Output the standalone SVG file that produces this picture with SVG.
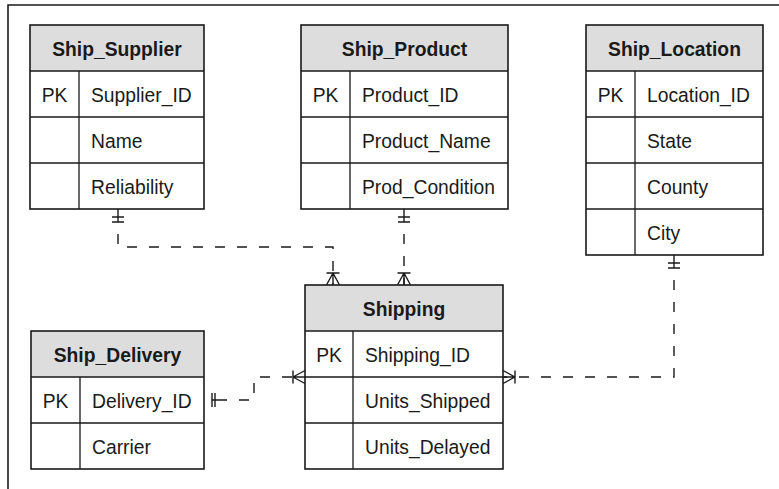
<svg xmlns="http://www.w3.org/2000/svg" width="779" height="489" viewBox="0 0 779 489">
  <style>
    .frame { fill: none; stroke: #1a1a1a; stroke-width: 1.6; }
    .hdr { fill: #dddddd; stroke: none; }
    .box { fill: none; stroke: #1a1a1a; stroke-width: 1.6; }
    .grid { fill: none; stroke: #1a1a1a; stroke-width: 1.3; }
    .title { font-family: "Liberation Sans", Arial, sans-serif; font-weight: bold; font-size: 19.3px; fill: #1a1a1a; text-anchor: middle; }
    .pk { font-family: "Liberation Sans", Arial, sans-serif; font-size: 19.3px; fill: #1a1a1a; text-anchor: middle; }
    .fld { font-family: "Liberation Sans", Arial, sans-serif; font-size: 19.3px; fill: #1a1a1a; }
    .rel { fill: none; stroke: #1a1a1a; stroke-width: 1.4; stroke-dasharray: 10 12; stroke-dashoffset: 10; }
    .mk { fill: none; stroke: #1a1a1a; stroke-width: 1.4; stroke-dasharray: none; }
  </style>
  <defs>
    <!-- crow's foot (many), toes touch the entity at the path end -->
    <marker id="many" markerUnits="userSpaceOnUse" orient="auto" refX="0" refY="0" markerWidth="30" markerHeight="30" overflow="visible">
      <path class="mk" d="M-12,0 H0 M-12,-6.5 V6.5 M-12,0 L0,-6.5 M-12,0 L0,6.5"/>
    </marker>
    <!-- one and only one, drawn back toward the entity from the path start -->
    <marker id="one" markerUnits="userSpaceOnUse" orient="auto" refX="0" refY="0" markerWidth="30" markerHeight="30" overflow="visible">
      <path class="mk" d="M-13,0 H0 M-5,-6 V6 M0,-6 V6"/>
    </marker>
    <marker id="oneSide" markerUnits="userSpaceOnUse" orient="auto" refX="0" refY="0" markerWidth="30" markerHeight="30" overflow="visible">
      <path class="mk" d="M-15,-7 V7 M-12,-7 V7 M-15,0 H0"/>
    </marker>
  </defs>

  <rect width="779" height="489" fill="#ffffff"/>
  <path class="frame" d="M8,489 V5 H779"/>

  <g id="connectors">
    <path class="rel" d="M118,222 V247 H333 V285" marker-start="url(#one)" marker-end="url(#many)"/>
    <path class="rel" d="M404,222 V285" marker-start="url(#one)" marker-end="url(#many)"/>
    <path class="rel" d="M674,268 V377 H503" marker-start="url(#one)" marker-end="url(#many)"/>
    <path class="rel" d="M227,400 H254 V377 H305" marker-start="url(#oneSide)" marker-end="url(#many)"/>
  </g>

  <g id="ship_supplier" transform="translate(30,25)">
    <rect class="hdr" width="174" height="46"/>
    <path class="grid" d="M0,46 H174 M0,92 H174 M0,138 H174 M49,46 V184"/>
    <rect class="box" width="174" height="184"/>
    <text class="title" x="87" y="31">Ship_Supplier</text>
    <text class="pk" x="24.5" y="77">PK</text>
    <text class="fld" x="61" y="77">Supplier_ID</text>
    <text class="fld" x="61" y="123">Name</text>
    <text class="fld" x="61" y="169">Reliability</text>
  </g>

  <g id="ship_product" transform="translate(301,25)">
    <rect class="hdr" width="207" height="46"/>
    <path class="grid" d="M0,46 H207 M0,92 H207 M0,138 H207 M49,46 V184"/>
    <rect class="box" width="207" height="184"/>
    <text class="title" x="103.5" y="31">Ship_Product</text>
    <text class="pk" x="24.5" y="77">PK</text>
    <text class="fld" x="61" y="77">Product_ID</text>
    <text class="fld" x="61" y="123">Product_Name</text>
    <text class="fld" x="61" y="169">Prod_Condition</text>
  </g>

  <g id="ship_location" transform="translate(586,25)">
    <rect class="hdr" width="177" height="46"/>
    <path class="grid" d="M0,46 H177 M0,92 H177 M0,138 H177 M0,184 H177 M49,46 V230"/>
    <rect class="box" width="177" height="230"/>
    <text class="title" x="88.5" y="31">Ship_Location</text>
    <text class="pk" x="24.5" y="77">PK</text>
    <text class="fld" x="61" y="77">Location_ID</text>
    <text class="fld" x="61" y="123">State</text>
    <text class="fld" x="61" y="169">County</text>
    <text class="fld" x="61" y="215">City</text>
  </g>

  <g id="ship_delivery" transform="translate(31,331)">
    <rect class="hdr" width="173" height="46"/>
    <path class="grid" d="M0,46 H173 M0,92 H173 M49,46 V138"/>
    <rect class="box" width="173" height="138"/>
    <text class="title" x="86.5" y="31">Ship_Delivery</text>
    <text class="pk" x="24.5" y="77">PK</text>
    <text class="fld" x="61" y="77">Delivery_ID</text>
    <text class="fld" x="61" y="123">Carrier</text>
  </g>

  <g id="shipping" transform="translate(305,285)">
    <rect class="hdr" width="198" height="46"/>
    <path class="grid" d="M0,46 H198 M0,92 H198 M0,138 H198 M48,46 V184"/>
    <rect class="box" width="198" height="184"/>
    <text class="title" x="99" y="31">Shipping</text>
    <text class="pk" x="24" y="77">PK</text>
    <text class="fld" x="60" y="77">Shipping_ID</text>
    <text class="fld" x="60" y="123">Units_Shipped</text>
    <text class="fld" x="60" y="169">Units_Delayed</text>
  </g>
</svg>
